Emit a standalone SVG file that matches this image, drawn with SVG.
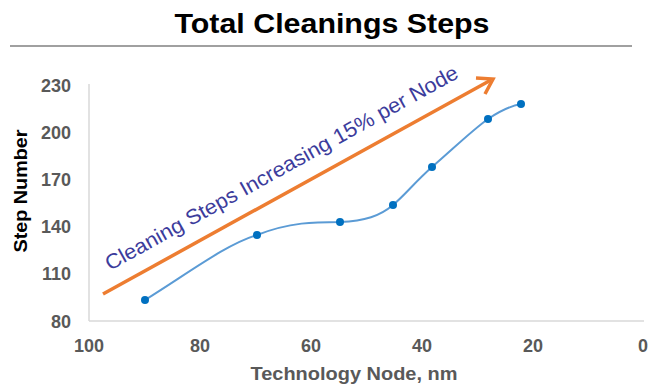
<svg xmlns="http://www.w3.org/2000/svg" width="665" height="389" viewBox="0 0 665 389">
<defs>
<style>
.tick{font-family:"Liberation Sans",Arial,sans-serif;font-weight:bold;font-size:18px;fill:#595959}
.axis{stroke:#d9d9d9;stroke-width:1.5;fill:none}
.pt{fill:#0070c0}
</style>
</defs>
<rect width="665" height="389" fill="#fff"/>
<g id="title">
<text x="332" y="33" text-anchor="middle" font-family="Liberation Sans,Arial,sans-serif" font-weight="bold" font-size="28" textLength="315" lengthAdjust="spacingAndGlyphs" fill="#000">Total Cleanings Steps</text>
<line x1="10" y1="46" x2="632" y2="46" stroke="#808080" stroke-width="1.5"/>
</g>
<g id="axes">
<line class="axis" x1="89" y1="84" x2="89" y2="321"/>
<line class="axis" x1="89" y1="321" x2="644" y2="321"/>
</g>
<g id="ylabels" class="tick" text-anchor="end">
<text x="71" y="92">230</text>
<text x="71" y="139">200</text>
<text x="71" y="186">170</text>
<text x="71" y="233">140</text>
<text x="71" y="280">110</text>
<text x="71" y="328">80</text>
</g>
<g id="xlabels" class="tick" text-anchor="middle">
<text x="89" y="352">100</text>
<text x="200" y="352">80</text>
<text x="311" y="352">60</text>
<text x="422" y="352">40</text>
<text x="533" y="352">20</text>
<text x="643" y="352">0</text>
</g>
<text x="27" y="191" transform="rotate(-90 27 191)" text-anchor="middle" font-family="Liberation Sans,Arial,sans-serif" font-weight="bold" font-size="18" textLength="123" lengthAdjust="spacingAndGlyphs" fill="#000">Step Number</text>
<text x="354" y="380" text-anchor="middle" font-family="Liberation Sans,Arial,sans-serif" font-weight="bold" font-size="19" textLength="207" lengthAdjust="spacingAndGlyphs" fill="#595959">Technology Node, nm</text>
<g id="trend">
<line x1="103" y1="294" x2="491" y2="80" stroke="#ed7d31" stroke-width="3.5"/>
<path d="M476,78 L493,79 L485,94" fill="none" stroke="#ed7d31" stroke-width="3.5" stroke-linejoin="miter"/>
<text x="110" y="271" transform="rotate(-29 110 271)" font-family="Liberation Sans,Arial,sans-serif" font-size="21" textLength="400" lengthAdjust="spacingAndGlyphs" fill="#3c3c9c">Cleaning Steps Increasing 15% per Node</text>
</g>
<g id="series">
<path d="M145,300 C190,272 225,245 257,235 C290,222 315,222 340,222 C365,221 380,216 393,205 C405,195 415,182 432,167 C452,150 470,132 488,119 C500,111 510,106 521,104" fill="none" stroke="#5b9bd5" stroke-width="2"/>
<circle class="pt" cx="145" cy="300" r="4"/>
<circle class="pt" cx="257" cy="235" r="4"/>
<circle class="pt" cx="340" cy="222" r="4"/>
<circle class="pt" cx="393" cy="205" r="4"/>
<circle class="pt" cx="432" cy="167" r="4"/>
<circle class="pt" cx="488" cy="119" r="4"/>
<circle class="pt" cx="521" cy="104" r="4"/>
</g>
</svg>
